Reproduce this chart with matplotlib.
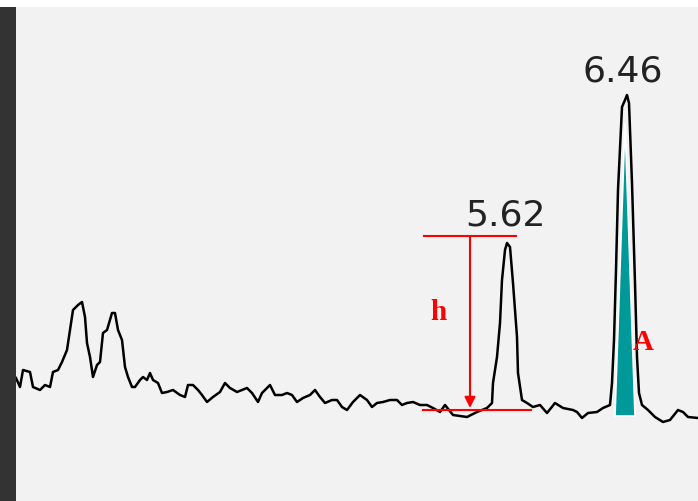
import matplotlib.pyplot as plt
from matplotlib.patches import Polygon, Rectangle

# Chromatogram trace (retention time in min, detector response in arbitrary units)
time = [2.183, 2.211, 2.232, 2.281, 2.302, 2.351, 2.386, 2.421, 2.442, 2.477,
        2.505, 2.540, 2.561, 2.582, 2.617, 2.645, 2.666, 2.680, 2.701, 2.722,
        2.750, 2.771, 2.792, 2.820, 2.855, 2.876, 2.897, 2.925, 2.946, 2.967,
        2.995, 3.016, 3.051, 3.072, 3.100, 3.121, 3.142, 3.177, 3.205, 3.240,
        3.282, 3.331, 3.366, 3.387, 3.422, 3.457, 3.485, 3.520, 3.562, 3.611,
        3.646, 3.681, 3.730, 3.800, 3.835, 3.877, 3.905, 3.961, 3.996, 4.045,
        4.080, 4.115, 4.150, 4.192, 4.241, 4.276, 4.311, 4.346, 4.395, 4.430,
        4.465, 4.500, 4.542, 4.591, 4.640, 4.675, 4.710, 4.752, 4.801, 4.850,
        4.885, 4.920, 4.962, 5.011, 5.060, 5.102, 5.151, 5.186, 5.242, 5.340,
        5.410, 5.480, 5.515, 5.522, 5.550, 5.571, 5.585, 5.606, 5.620, 5.641,
        5.662, 5.690, 5.697, 5.725, 5.760, 5.802, 5.851, 5.900, 5.956, 6.012,
        6.082, 6.110, 6.145, 6.187, 6.250, 6.292, 6.341, 6.355, 6.369, 6.383,
        6.397, 6.425, 6.446, 6.460, 6.474, 6.495, 6.516, 6.530, 6.544, 6.565,
        6.607, 6.656, 6.712, 6.761, 6.817, 6.852, 6.887, 6.957]
signal = [42, 33, 50, 48, 33, 30, 35, 33, 48, 50,
          58, 70, 90, 110, 115, 118, 103, 77, 63, 43,
          55, 58, 87, 90, 107, 107, 90, 80, 53, 43,
          33, 33, 40, 43, 40, 47, 40, 37, 27, 28,
          30, 25, 23, 35, 35, 30, 25, 18, 23, 28,
          37, 32, 28, 32, 27, 18, 27, 35, 25, 25,
          27, 25, 18, 22, 25, 30, 23, 17, 20, 20,
          13, 10, 18, 25, 20, 13, 17, 18, 20, 20,
          15, 17, 18, 15, 15, 12, 8, 15, 5, 3,
          8, 12, 17, 37, 63, 97, 140, 170, 177, 173,
          137, 83, 47, 20, 17, 13, 15, 7, 17, 12,
          10, 8, 2, 7, 8, 12, 15, 37, 80, 150,
          230, 313, 320, 325, 317, 237, 137, 63, 27, 15,
          10, 3, -2, 0, 10, 8, 3, 2]

peak_labels = ['5.62', '6.46']
peak_label_t = [5.606, 6.432]
peak_label_s = [194, 339]

# peak height (h) and peak area (A) annotations
h_top = 184
h_base = 10
h_time = 5.361
area_tri = [(6.376, 4), (6.516, 4), (6.446, 297)]

fig = plt.figure(figsize=(6.98, 5.01), dpi=100)
fig.patch.set_facecolor('white')
fig.patches.append(Rectangle((0, 0), 16 / 698, 494 / 501, transform=fig.transFigure,
                             facecolor='#333333', edgecolor='none'))

ax = fig.add_axes([16 / 698, 0, 682 / 698, 494 / 501])
ax.set_facecolor('#f2f2f2')
ax.set_xlim(2.183, 6.957)
ax.set_ylim(-81, 413)
for sp in ax.spines.values():
    sp.set_visible(False)
ax.set_xticks([])
ax.set_yticks([])

ax.plot(time, signal, color='black', linewidth=1.8, zorder=2)

# area triangle under the 6.46 peak
ax.add_patch(Polygon(area_tri, closed=True, facecolor='#009999', edgecolor='white',
                     linewidth=1.2, zorder=3))

# height markers for the 5.62 peak
ax.plot([5.039, 5.683], [h_top, h_top], color='red', linewidth=1.5, zorder=4)
ax.plot([5.032, 5.788], [h_base, h_base], color='red', linewidth=1.5, zorder=4)
ax.annotate('', xy=(h_time, h_base + 2), xytext=(h_time, h_top),
            arrowprops=dict(arrowstyle='-|>', color='red', lw=1.5,
                            mutation_scale=16, shrinkA=0, shrinkB=0), zorder=4)

ax.text(5.137, 107, 'h', color='red', fontsize=21, fontweight='bold',
        family='Liberation Serif', ha='center', va='center', zorder=5)
ax.text(6.572, 78, 'A', color='red', fontsize=21, fontweight='bold',
        family='Liberation Serif', ha='center', va='center', zorder=5)

for lab, t, s in zip(peak_labels, peak_label_t, peak_label_s):
    ax.text(t, s, lab, color='#222222', fontsize=26, family='DejaVu Sans',
            ha='center', va='baseline', zorder=5)

fig.savefig('out.png', dpi=100, facecolor='white')
